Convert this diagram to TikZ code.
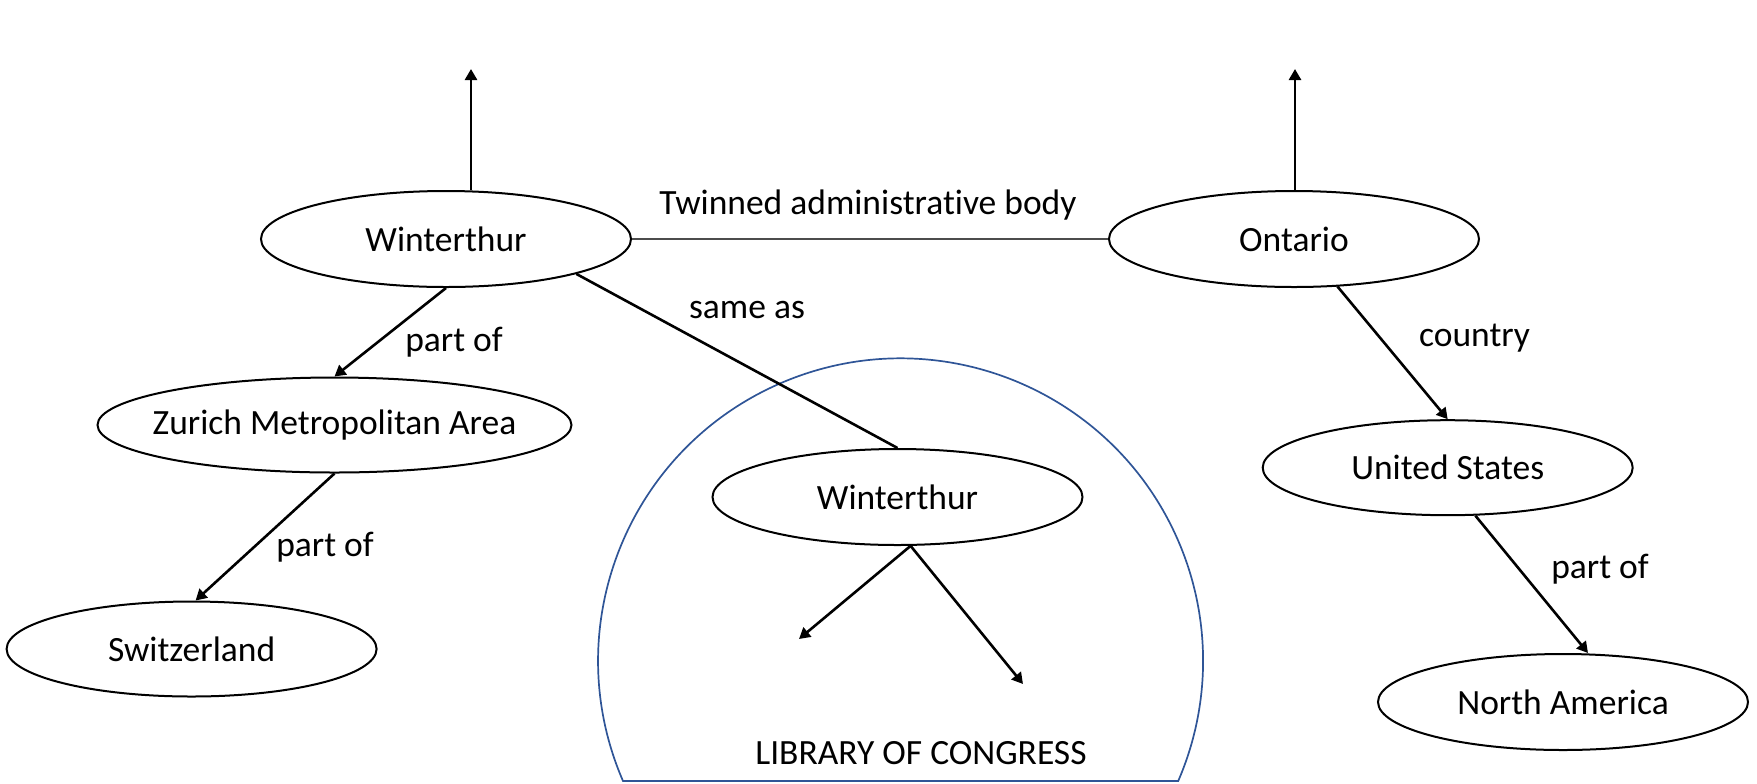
\documentclass[tikz,border=0pt]{standalone}
\usepackage{fontspec}
\setmainfont{Carlito}[Ligatures=NoCommon]
\usetikzlibrary{arrows.meta,shapes.geometric}
\definecolor{locblue}{RGB}{47,85,151}
\newcommand\mytxt[1]{\makebox[0pt]{#1}}
\begin{document}
\begin{tikzpicture}[x=0.5pt,y=-0.5pt,
  every node/.style={font=\fontsize{17.75}{21}\selectfont},
  ent/.style={ellipse, draw, line width=1pt, inner sep=0pt, minimum width=185pt, minimum height=48pt},
  arr/.style={line width=1.3pt, -{Triangle[length=5.5pt,width=6pt]}},
  plain/.style={line width=1.3pt},
  thinline/.style={line width=0.6pt, black!70},
  lbl/.style={inner sep=0pt}]
\useasboundingbox (0,0) rectangle (1757,783);
% Library of Congress region
\draw[locblue, line width=0.85pt] (623,781) arc[start angle=203.4, end angle=-23.4, radius=151.25pt] -- cycle;
% entities
\node[ent] (W1) at (446,239) {\mytxt{Winterthur}};
\node[ent] (ON) at (1294,239) {\mytxt{Ontario}};
\node[ent, minimum width=237pt, minimum height=47.5pt] (ZM) at (334.5,425) {\mytxt{Zurich Metropolitan Area}};
\node[ent, minimum height=47.5pt] (CH) at (191.6,649) {\mytxt{Switzerland}};
\node[ent] (W2) at (897.5,497) {\mytxt{Winterthur}};
\node[ent, minimum height=47.5pt] (US) at (1447.7,467.7) {\mytxt{United States}};
\node[ent] (NA) at (1563,702) {\mytxt{North America}};
% free ends
\coordinate (up1) at (471,69);
\coordinate (up2) at (1295,69);
\coordinate (e1) at (799,639);
\coordinate (e2) at (1023,684);
% connectors
\draw[arr] (W1.north -| up1) -- (up1);
\draw[arr] (ON.north -| up2) -- (up2);
\draw[thinline] (W1.east) -- (ON.west);
\draw[arr] (W1.south) -- (ZM.north);
\draw[arr] (ZM.south) -- ([xshift=2pt]CH.north);
\draw[plain] (W1.-15) -- (W2.north);
\draw[arr] (W2.-75) -- (e1);
\draw[arr] (W2.-75) -- (e2);
\draw[arr] ([xshift=-2pt]ON.-45) -- (US.north);
\draw[arr] (US.-60) -- ([xshift=12.5pt]NA.north);
% labels
\node[lbl] (l1) at (868,205) {Twinned administrative body};
\node[lbl] (l2) at (454,342) {part of};
\node[lbl] (l3) at (325,547) {part of};
\node[lbl] (l4) at (747,310) {same as};
\node[lbl] (l5) at (1474.6,338) {country};
\node[lbl] (l6) at (1600,569) {part of};
\node[lbl] (l7) at (921,753) {LIBRARY OF CONGRESS};
\end{tikzpicture}
\end{document}
